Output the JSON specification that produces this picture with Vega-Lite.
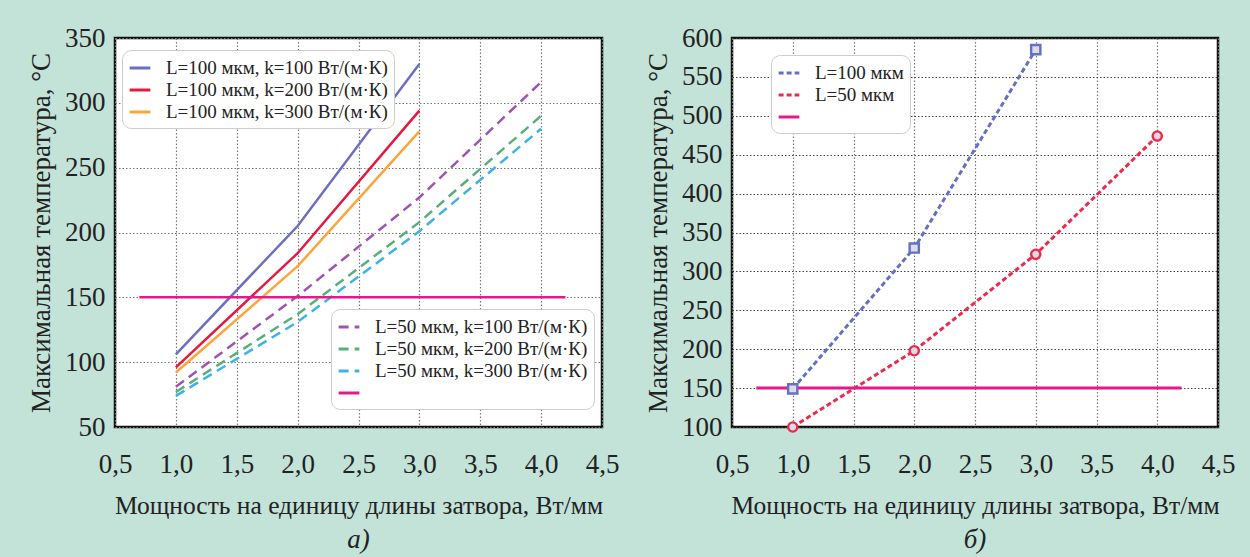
{
  "$schema": "https://vega.github.io/schema/vega-lite/v6.json",
  "background": "#c3e3d9",
  "padding": {"left": 26, "top": 22, "right": 30, "bottom": 5},
  "spacing": 22,
  "config": {
    "font": "Liberation Serif",
    "view": {"fill": "white", "stroke": "#111", "strokeWidth": 2.5},
    "axis": {
      "labelFont": "Liberation Serif", "labelFontSize": 27, "labelColor": "#222",
      "titleFont": "Liberation Serif", "titleFontSize": 25.5, "titleColor": "#222", "titleFontWeight": "normal",
      "domain": false, "ticks": false, "labelOverlap": false, "labelFlush": false,
      "grid": true, "gridColor": "#777", "gridDash": [1.5, 2], "gridWidth": 1.2
    },
    "legend": {
      "labelFont": "Liberation Serif", "labelFontSize": 19, "labelColor": "#222", "labelLimit": 500,
      "fillColor": "white", "strokeColor": "#cccccc", "cornerRadius": 9, "padding": 6,
      "symbolType": "stroke", "symbolStrokeWidth": 3, "symbolSize": 430, "rowPadding": 0, "labelOffset": 14,
      "titleFontSize": 0
    },
    "title": {"font": "Liberation Serif", "fontSize": 27, "fontStyle": "italic", "fontWeight": "normal", "color": "#222"}
  },
  "hconcat": [
    {
      "width": 487, "height": 389,
      "title": {"text": "а)", "orient": "bottom", "offset": 8},
      "encoding": {
        "x": {"field": "x", "type": "quantitative", "scale": {"domain": [0.5, 4.5], "nice": false, "zero": false},
              "axis": {"values": [0.5,1,1.5,2,2.5,3,3.5,4,4.5], "labelExpr": "replace(format(datum.value, '.1f'), '.', ',')", "labelPadding": 24, "title": "Мощность на единицу длины затвора, Вт/мм", "titlePadding": 16}},
        "y": {"field": "y", "type": "quantitative", "scale": {"domain": [50, 350], "nice": false, "zero": false},
              "axis": {"values": [50,100,150,200,250,300,350], "labelPadding": 10, "title": "Максимальная температура, °C", "titlePadding": 9, "titleFontSize": 27}}
      },
      "layer": [
        {
          "data": {"values": [
            {"x": 1, "y": 106, "s": "L=100 мкм, k=100 Вт/(м·К)"},
            {"x": 2, "y": 205, "s": "L=100 мкм, k=100 Вт/(м·К)"},
            {"x": 3, "y": 330, "s": "L=100 мкм, k=100 Вт/(м·К)"},
            {"x": 1, "y": 96, "s": "L=100 мкм, k=200 Вт/(м·К)"},
            {"x": 2, "y": 184, "s": "L=100 мкм, k=200 Вт/(м·К)"},
            {"x": 3, "y": 294, "s": "L=100 мкм, k=200 Вт/(м·К)"},
            {"x": 1, "y": 92, "s": "L=100 мкм, k=300 Вт/(м·К)"},
            {"x": 2, "y": 174, "s": "L=100 мкм, k=300 Вт/(м·К)"},
            {"x": 3, "y": 278, "s": "L=100 мкм, k=300 Вт/(м·К)"}
          ]},
          "mark": {"type": "line", "strokeWidth": 2.5},
          "encoding": {
            "color": {"field": "s", "type": "nominal",
                      "scale": {"domain": ["L=100 мкм, k=100 Вт/(м·К)", "L=100 мкм, k=200 Вт/(м·К)", "L=100 мкм, k=300 Вт/(м·К)"],
                                "range": ["#6b6fc0", "#e8173f", "#ffa43a"]},
                      "legend": {"title": null, "orient": "none", "legendX": 7, "legendY": 12}}
          }
        },
        {
          "data": {"values": [
            {"x": 1, "y": 81, "s": "L=50 мкм, k=100 Вт/(м·К)"},
            {"x": 2, "y": 151, "s": "L=50 мкм, k=100 Вт/(м·К)"},
            {"x": 3, "y": 227, "s": "L=50 мкм, k=100 Вт/(м·К)"},
            {"x": 4, "y": 316, "s": "L=50 мкм, k=100 Вт/(м·К)"},
            {"x": 1, "y": 77, "s": "L=50 мкм, k=200 Вт/(м·К)"},
            {"x": 2, "y": 137, "s": "L=50 мкм, k=200 Вт/(м·К)"},
            {"x": 3, "y": 208, "s": "L=50 мкм, k=200 Вт/(м·К)"},
            {"x": 4, "y": 290, "s": "L=50 мкм, k=200 Вт/(м·К)"},
            {"x": 1, "y": 74, "s": "L=50 мкм, k=300 Вт/(м·К)"},
            {"x": 2, "y": 131, "s": "L=50 мкм, k=300 Вт/(м·К)"},
            {"x": 3, "y": 201, "s": "L=50 мкм, k=300 Вт/(м·К)"},
            {"x": 4, "y": 280, "s": "L=50 мкм, k=300 Вт/(м·К)"},
            {"x": 0.7, "y": 150, "s": "150 °C"},
            {"x": 4.2, "y": 150, "s": "150 °C"}
          ]},
          "mark": {"type": "line", "strokeWidth": 2.5},
          "encoding": {
            "color": {"field": "s", "type": "nominal",
                      "scale": {"domain": ["L=50 мкм, k=100 Вт/(м·К)", "L=50 мкм, k=200 Вт/(м·К)", "L=50 мкм, k=300 Вт/(м·К)", "150 °C"],
                                "range": ["#a052b4", "#5aae7a", "#3cb3e6", "#e8178a"]},
                      "legend": {"title": null, "orient": "none", "legendX": 216, "legendY": 271, "labelExpr": "datum.label == '150 °C' ? '' : datum.label"}},
            "strokeDash": {"field": "s", "type": "nominal",
                      "scale": {"domain": ["L=50 мкм, k=100 Вт/(м·К)", "L=50 мкм, k=200 Вт/(м·К)", "L=50 мкм, k=300 Вт/(м·К)", "150 °C"],
                                "range": [[10, 6], [10, 6], [10, 6], [1, 0]]},
                      "legend": {"title": null, "orient": "none", "legendX": 216, "legendY": 271, "labelExpr": "datum.label == '150 °C' ? '' : datum.label"}}
          }
        }
      ],
      "resolve": {"scale": {"color": "independent", "strokeDash": "independent"}, "legend": {"color": "independent", "strokeDash": "independent"}}
    },
    {
      "width": 486, "height": 389,
      "title": {"text": "б)", "orient": "bottom", "offset": 8},
      "data": {"values": [
        {"x": 1, "y": 149, "s": "L=100 мкм"},
        {"x": 2, "y": 330, "s": "L=100 мкм"},
        {"x": 3, "y": 585, "s": "L=100 мкм"},
        {"x": 1, "y": 100, "s": "L=50 мкм"},
        {"x": 2, "y": 198, "s": "L=50 мкм"},
        {"x": 3, "y": 322, "s": "L=50 мкм"},
        {"x": 4, "y": 474, "s": "L=50 мкм"},
        {"x": 0.7, "y": 150, "s": "150 °C"},
        {"x": 4.2, "y": 150, "s": "150 °C"}
      ]},
      "encoding": {
        "x": {"field": "x", "type": "quantitative", "scale": {"domain": [0.5, 4.5], "nice": false, "zero": false},
              "axis": {"values": [0.5,1,1.5,2,2.5,3,3.5,4,4.5], "labelExpr": "replace(format(datum.value, '.1f'), '.', ',')", "labelPadding": 24, "title": "Мощность на единицу длины затвора, Вт/мм", "titlePadding": 16}},
        "y": {"field": "y", "type": "quantitative", "scale": {"domain": [100, 600], "nice": false, "zero": false},
              "axis": {"values": [100,150,200,250,300,350,400,450,500,550,600], "labelPadding": 10, "title": "Максимальная температура, °C", "titlePadding": 9, "titleFontSize": 27, "gridColor": "#444"}}
      },
      "layer": [
        {
          "mark": {"type": "line", "strokeWidth": 3},
          "encoding": {
            "color": {"field": "s", "type": "nominal",
                      "scale": {"domain": ["L=100 мкм", "L=50 мкм", "150 °C"], "range": ["#6470c4", "#ee2a4a", "#e8178a"]},
                      "legend": {"title": null, "orient": "none", "legendX": 656, "legendY": 17, "labelExpr": "datum.label == '150 °C' ? '' : datum.label"}},
            "strokeDash": {"field": "s", "type": "nominal",
                      "scale": {"domain": ["L=100 мкм", "L=50 мкм", "150 °C"], "range": [[5, 3], [5, 3], [1, 0]]},
                      "legend": {"title": null, "orient": "none", "legendX": 656, "legendY": 17, "labelExpr": "datum.label == '150 °C' ? '' : datum.label"}}
          }
        },
        {
          "transform": [{"filter": "datum.s != '150 °C'"}],
          "mark": {"type": "point", "filled": false, "size": 85, "strokeWidth": 2.4, "fill": "#dcdce8", "fillOpacity": 1, "opacity": 1},
          "encoding": {
            "shape": {"field": "s", "type": "nominal", "scale": {"domain": ["L=100 мкм", "L=50 мкм"], "range": ["square", "circle"]}, "legend": null},
            "stroke": {"field": "s", "type": "nominal", "scale": {"domain": ["L=100 мкм", "L=50 мкм"], "range": ["#6470c4", "#ee2a4a"]}, "legend": null}
          }
        }
      ]
    }
  ]
}
